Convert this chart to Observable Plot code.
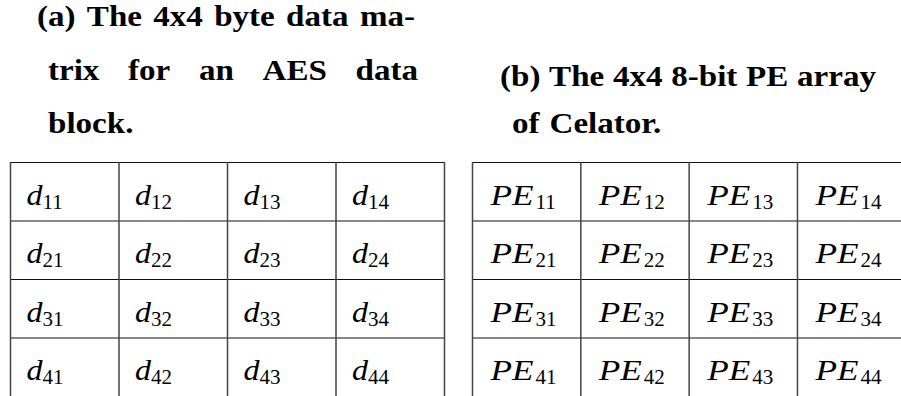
<!DOCTYPE html>
<html><head><meta charset="utf-8">
<script src="https://cdn.jsdelivr.net/npm/d3@7"></script>
<script src="https://cdn.jsdelivr.net/npm/@observablehq/plot@0.6"></script>
<style>
html,body{margin:0;padding:0;background:#fff;}
#wrap{position:relative;width:901px;height:396px;overflow:hidden;background:#fff;}
#wrap svg{position:absolute;overflow:hidden;}
</style></head><body><div id="wrap"></div>
<script>
// ---- data ----
const rows = [1, 2, 3, 4];
const cols = [1, 2, 3, 4];
const symbolA = "d";
const symbolB = "PE";
const captionA = ["(a) The 4x4 byte data ma-", "trix for an AES data", "block."];
const captionB = ["(b) The 4x4 8-bit PE array", "of Celator."];

const cells = rows.flatMap(r => cols.map(c => ({row: r, col: c, sub: `${r}${c}`})));
const wrap = document.getElementById("wrap");

// ---- captions (bold, horizontally extended serif) ----
const stretch = 1.14;
const layoutA = [{x: 37, y: 26, w: 378}, {x: 48, y: 80, w: 370}, {x: 48, y: 133}];
const layoutB = [{x: 500, y: 86, w: 376}, {x: 512, y: 133}];
const tsvg = d3.create("svg").attr("width", 901).attr("height", 160)
  .style("left", "0px").style("top", "0px");
wrap.appendChild(tsvg.node());
function captionLine(text, {x, y, w}) {
  const words = text.split(" ");
  const els = words.map(wd => tsvg.append("text").text(wd)
    .attr("y", y)
    .attr("font-family", "Liberation Serif").attr("font-weight", "bold")
    .attr("font-size", 29).attr("fill", "#000"));
  const widths = els.map(e => e.node().getComputedTextLength() * stretch);
  els.forEach((e, i) => e.attr("textLength", widths[i]).attr("lengthAdjust", "spacingAndGlyphs"));
  const total = d3.sum(widths);
  const gap = w ? (w - total) / (words.length - 1) : 10;
  let cx = x;
  els.forEach((e, i) => { e.attr("x", cx); cx += widths[i] + gap; });
}
captionA.forEach((t, i) => captionLine(t, layoutA[i]));
captionB.forEach((t, i) => captionLine(t, layoutB[i]));

// ---- tables ----
function table({left, width, x0, x1, symbol, symDx, subDx, symWidth}) {
  const plot = Plot.plot({
    width, height: 236, margin: 0,
    x: {domain: [0, cols.length], range: [x0, x1], axis: null},
    y: {domain: [0, rows.length], range: [2, 236], axis: null},
    marks: [
      Plot.ruleY(rows, {y: r => r - 1, x1: 0, x2: cols.length, stroke: "#111", strokeWidth: 1.1}),
      Plot.ruleX(d3.range(cols.length + 1), {x: c => c, y1: 0, y2: rows.length, stroke: "#444", strokeWidth: 1.5}),
      Plot.text(cells, {x: d => d.col - 1, y: d => d.row - 1, text: () => symbol,
        dx: symDx, dy: 42, textAnchor: "start", lineAnchor: "bottom",
        fontFamily: "Liberation Serif", fontStyle: "italic", fontSize: 29, fill: "#000"}),
      Plot.text(cells, {x: d => d.col - 1, y: d => d.row - 1, text: "sub",
        dx: subDx, dy: 46, textAnchor: "start", lineAnchor: "bottom",
        fontFamily: "Liberation Serif", fontSize: 21, fill: "#000"})
    ]
  });
  if (symWidth) {
    d3.select(plot).selectAll("text").filter(function() { return this.textContent === symbol; })
      .attr("textLength", symWidth).attr("lengthAdjust", "spacingAndGlyphs");
  }
  plot.style.left = left + "px";
  plot.style.top = "160px";
  plot.style.background = "transparent";
  wrap.appendChild(plot);
}
table({left: 0, width: 450, x0: 10, x1: 444, symbol: symbolA, symDx: 16, subDx: 32, symWidth: 16});
table({left: 450, width: 451, x0: 22, x1: 455.3, symbol: symbolB, symDx: 18, subDx: 63, symWidth: 43});
</script></body></html>
